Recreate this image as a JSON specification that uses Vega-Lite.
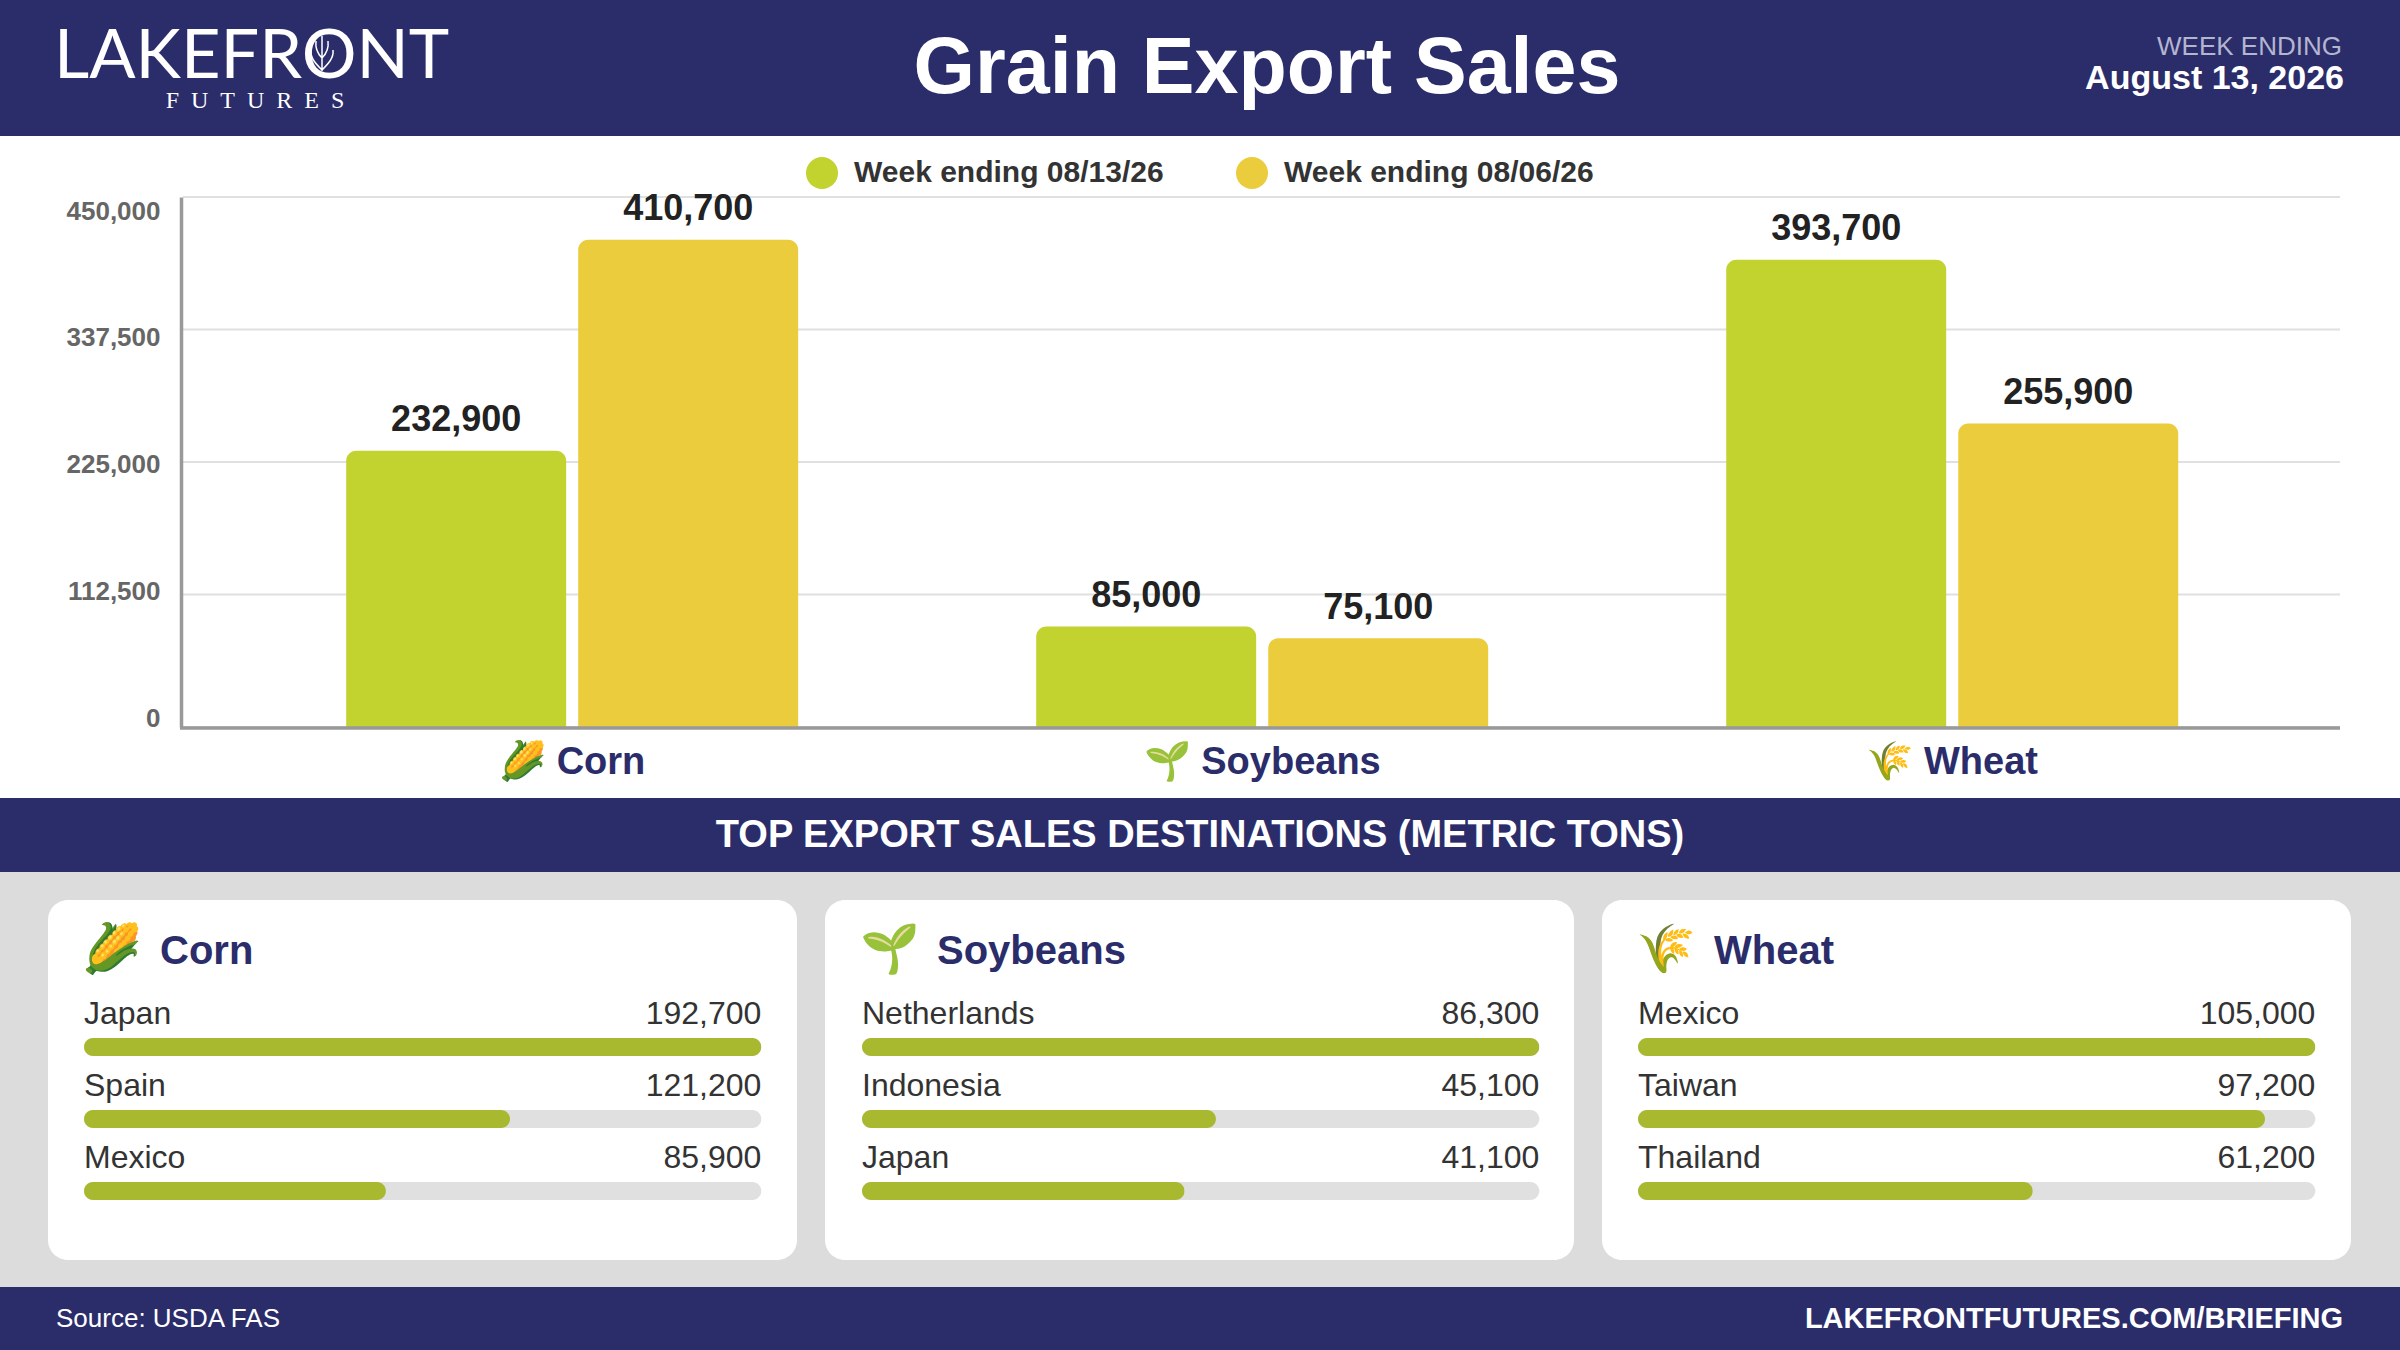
{"$schema":"https://vega.github.io/schema/vega-lite/v6.json","background":"#dcdcdc","padding":0,"spacing":0,"config":{"font":"Liberation Sans","view":{"stroke":null},"concat":{"spacing":0}},"datasets":{"ticks":[{"tick":0},{"tick":112500},{"tick":225000},{"tick":337500},{"tick":450000}],"sales":[{"crop":"Corn","week":"Week ending 08/13/26","tons":232900},{"crop":"Corn","week":"Week ending 08/06/26","tons":410700},{"crop":"Soybeans","week":"Week ending 08/13/26","tons":85000},{"crop":"Soybeans","week":"Week ending 08/06/26","tons":75100},{"crop":"Wheat","week":"Week ending 08/13/26","tons":393700},{"crop":"Wheat","week":"Week ending 08/06/26","tons":255900}]},"vconcat":[
{"width":2400,"height":136,"view":{"fill":"#2b2d6b"},"layer":[
{"data":{"values":[{"t":"LAKEFRONT"}]},"mark":{"type":"text","x":54,"y":57,"align":"left","baseline":"middle","font":"Lato","fontSize":68.5,"color":"#ffffff"},"encoding":{"text":{"field":"t"}}},
{"data":{"values":[{"t":"logo leaf"}]},"mark":{"type":"point","x":322,"y":53,"size":1600,"filled":false,"opacity":1,"stroke":"#ffffff","strokeWidth":1.5,"shape":"M0,-0.85 L0,0.9 M0,0.85 C-0.3,0.55 -0.6,0.25 -0.55,-0.15 M0,0.85 C0.3,0.55 0.6,0.25 0.55,-0.15 M0,0.25 C-0.2,0.05 -0.35,-0.2 -0.3,-0.6 M0,0.25 C0.2,0.05 0.35,-0.2 0.3,-0.6"},"encoding":{}},
{"data":{"values":[{"t":"F\u2002U\u2002T\u2002U\u2002R\u2002E\u2002S"}]},"mark":{"type":"text","x":255,"y":101,"align":"center","baseline":"middle","font":"Liberation Serif","fontSize":24,"color":"#ffffff"},"encoding":{"text":{"field":"t"}}},
{"data":{"values":[{"t":"Grain Export Sales"}]},"mark":{"type":"text","x":1267,"y":69,"align":"center","baseline":"middle","fontWeight":"bold","fontSize":79,"color":"#ffffff"},"encoding":{"text":{"field":"t"}}},
{"data":{"values":[{"t":"WEEK ENDING"}]},"mark":{"type":"text","x":2342,"y":47,"align":"right","baseline":"middle","fontSize":26,"color":"#b4b5cf"},"encoding":{"text":{"field":"t"}}},
{"data":{"values":[{"t":"August 13, 2026"}]},"mark":{"type":"text","x":2344,"y":79,"align":"right","baseline":"middle","fontWeight":"bold","fontSize":34,"color":"#ffffff"},"encoding":{"text":{"field":"t"}}}
]},
{"width":2400,"height":662,"view":{"fill":"#ffffff"},"resolve":{"scale":{"x":"independent","y":"independent"}},"layer":[
{"data":{"name":"ticks"},"mark":{"type":"rule","color":"#e0e0e0","strokeWidth":2},"encoding":{"y":{"field":"tick","type":"quantitative","scale":{"domain":[0,450000],"nice":false,"range":[591,61]},"axis":{"orient":"left","offset":-181,"labels":false,"ticks":false,"grid":false,"title":null,"domainColor":"#999999","domainWidth":3.5,"zindex":1}},"x":{"datum":0,"type":"quantitative","scale":{"domain":[0,1],"nice":false,"range":[183,2340]},"axis":null},"x2":{"datum":1}}},
{"data":{"name":"ticks"},"mark":{"type":"rule","opacity":0},"encoding":{"y":{"field":"tick","type":"quantitative","scale":{"domain":[0,450000],"nice":false,"range":[582,75]},"axis":{"orient":"left","offset":-165,"values":[0,112500,225000,337500,450000],"format":",d","labelFontSize":26,"labelFontWeight":"bold","labelColor":"#666666","labelPadding":5,"labelOverlap":false,"labelFlush":false,"domain":false,"ticks":false,"grid":false,"title":null}}}},
{"data":{"name":"sales"},"mark":{"type":"bar","cornerRadiusTopLeft":10,"cornerRadiusTopRight":10},"encoding":{"x":{"field":"crop","type":"nominal","sort":null,"scale":{"domain":["Corn","Soybeans","Wheat"],"range":[183.7,2340.7],"paddingInner":0.345,"paddingOuter":0.2355},"axis":{"orient":"bottom","offset":-70,"title":null,"ticks":false,"domain":false,"labelAngle":0,"labelFontSize":38,"labelFontWeight":"bold","labelColor":"#2b2d6b","labelPadding":15,"labelLimit":400,"labelExpr":"(datum.value=='Corn'?'🌽 ':datum.value=='Soybeans'?'🌱 ':'🌾 ')+datum.value"}},"xOffset":{"field":"week","type":"nominal","sort":["Week ending 08/13/26","Week ending 08/06/26"],"scale":{"paddingInner":0.052,"paddingOuter":0}},"y":{"field":"tons","type":"quantitative","stack":null,"scale":{"domain":[0,450000],"nice":false,"range":[591.5,57]},"axis":null},"color":{"field":"week","type":"nominal","sort":["Week ending 08/13/26","Week ending 08/06/26"],"scale":{"domain":["Week ending 08/13/26","Week ending 08/06/26"],"range":["#c2d22e","#eacc3c"]},"legend":{"title":null,"orient":"none","legendX":806,"legendY":157,"direction":"horizontal","columns":2,"columnPadding":72,"symbolType":"circle","symbolSize":1024,"symbolStrokeWidth":0,"labelFontSize":30,"labelFontWeight":"bold","labelColor":"#333333","labelOffset":16,"labelLimit":500}}}},
{"data":{"name":"sales"},"mark":{"type":"text","baseline":"bottom","dy":-11.5,"fontSize":36,"fontWeight":"bold","color":"#222222"},"encoding":{"x":{"field":"crop","type":"nominal","sort":null,"scale":{"domain":["Corn","Soybeans","Wheat"],"range":[183.7,2340.7],"paddingInner":0.345,"paddingOuter":0.2355},"axis":null},"xOffset":{"field":"week","type":"nominal","sort":["Week ending 08/13/26","Week ending 08/06/26"],"scale":{"paddingInner":0.052,"paddingOuter":0}},"y":{"field":"tons","type":"quantitative","stack":null,"scale":{"domain":[0,450000],"nice":false,"range":[591.5,57]},"axis":null},"text":{"field":"tons","type":"quantitative","format":",d"}}},
{"data":{"values":[{"tick":0}]},"mark":{"type":"rule","color":"#999999","strokeWidth":3.5},"encoding":{"y":{"field":"tick","type":"quantitative","scale":{"domain":[0,450000],"nice":false,"range":[592,61]},"axis":null},"x":{"datum":0,"type":"quantitative","scale":{"domain":[0,1],"nice":false,"range":[180,2340]},"axis":null},"x2":{"datum":1}}}
]},
{"width":2400,"height":74,"view":{"fill":"#2b2d6b"},"data":{"values":[{"t":"TOP EXPORT SALES DESTINATIONS (METRIC TONS)"}]},"mark":{"type":"text","x":1200,"y":38,"align":"center","baseline":"middle","fontWeight":"bold","fontSize":38,"color":"#ffffff"},"encoding":{"text":{"field":"t"}}},
{"width":2400,"height":28,"view":{"fill":"#dcdcdc"},"data":{"values":[]},"mark":"rule","encoding":{}},
{"spacing":28,"hconcat":[
{"width":20,"height":360,"view":{"fill":"#dcdcdc"},"data":{"values":[]},"mark":"rule","encoding":{}},
{"width":749,"height":360,"view":{"fill":"#ffffff","cornerRadius":20},"layer":[
{"data":{"values":[{"t":"🌽"}]},"mark":{"type":"text","x":64,"y":51,"align":"center","baseline":"middle","fontSize":48},"encoding":{"text":{"field":"t"}}},
{"data":{"values":[{"t":"Corn"}]},"mark":{"type":"text","x":112,"y":52,"align":"left","baseline":"middle","fontSize":40,"fontWeight":"bold","color":"#2b2d6b"},"encoding":{"text":{"field":"t"}}},
{"data":{"values":[{"country":"Japan","tons":192700},{"country":"Spain","tons":121200},{"country":"Mexico","tons":85900}]},"layer":[
{"mark":{"type":"bar","height":18,"cornerRadius":9,"color":"#e0e0e0"},"encoding":{"y":{"field":"country","type":"nominal","sort":null,"scale":{"type":"point","padding":0,"domain":["Japan","Spain","Mexico"],"range":[147,291]},"axis":null},"x":{"datum":0,"type":"quantitative","scale":{"domain":[0,192700],"nice":false,"range":[36,713.3]},"axis":null},"x2":{"datum":192700}}},
{"mark":{"type":"bar","height":18,"cornerRadius":9,"color":"#a8b82f"},"encoding":{"y":{"field":"country","type":"nominal","sort":null},"x":{"field":"tons","type":"quantitative"}}},
{"mark":{"type":"text","align":"left","baseline":"middle","dy":-33,"fontSize":32,"color":"#333333"},"encoding":{"y":{"field":"country","type":"nominal","sort":null},"x":{"datum":0,"type":"quantitative"},"text":{"field":"country"}}},
{"mark":{"type":"text","align":"right","baseline":"middle","dy":-33,"fontSize":32,"color":"#333333"},"encoding":{"y":{"field":"country","type":"nominal","sort":null},"x":{"datum":192700,"type":"quantitative"},"text":{"field":"tons","type":"quantitative","format":",d"}}}
]}]},
{"width":749,"height":360,"view":{"fill":"#ffffff","cornerRadius":20},"layer":[
{"data":{"values":[{"t":"🌱"}]},"mark":{"type":"text","x":65,"y":51,"align":"center","baseline":"middle","fontSize":48},"encoding":{"text":{"field":"t"}}},
{"data":{"values":[{"t":"Soybeans"}]},"mark":{"type":"text","x":112,"y":52,"align":"left","baseline":"middle","fontSize":40,"fontWeight":"bold","color":"#2b2d6b"},"encoding":{"text":{"field":"t"}}},
{"data":{"values":[{"country":"Netherlands","tons":86300},{"country":"Indonesia","tons":45100},{"country":"Japan","tons":41100}]},"layer":[
{"mark":{"type":"bar","height":18,"cornerRadius":9,"color":"#e0e0e0"},"encoding":{"y":{"field":"country","type":"nominal","sort":null,"scale":{"type":"point","padding":0,"domain":["Netherlands","Indonesia","Japan"],"range":[147,291]},"axis":null},"x":{"datum":0,"type":"quantitative","scale":{"domain":[0,86300],"nice":false,"range":[37,714.3]},"axis":null},"x2":{"datum":86300}}},
{"mark":{"type":"bar","height":18,"cornerRadius":9,"color":"#a8b82f"},"encoding":{"y":{"field":"country","type":"nominal","sort":null},"x":{"field":"tons","type":"quantitative"}}},
{"mark":{"type":"text","align":"left","baseline":"middle","dy":-33,"fontSize":32,"color":"#333333"},"encoding":{"y":{"field":"country","type":"nominal","sort":null},"x":{"datum":0,"type":"quantitative"},"text":{"field":"country"}}},
{"mark":{"type":"text","align":"right","baseline":"middle","dy":-33,"fontSize":32,"color":"#333333"},"encoding":{"y":{"field":"country","type":"nominal","sort":null},"x":{"datum":86300,"type":"quantitative"},"text":{"field":"tons","type":"quantitative","format":",d"}}}
]}]},
{"width":749,"height":360,"view":{"fill":"#ffffff","cornerRadius":20},"layer":[
{"data":{"values":[{"t":"🌾"}]},"mark":{"type":"text","x":64,"y":51,"align":"center","baseline":"middle","fontSize":48},"encoding":{"text":{"field":"t"}}},
{"data":{"values":[{"t":"Wheat"}]},"mark":{"type":"text","x":112,"y":52,"align":"left","baseline":"middle","fontSize":40,"fontWeight":"bold","color":"#2b2d6b"},"encoding":{"text":{"field":"t"}}},
{"data":{"values":[{"country":"Mexico","tons":105000},{"country":"Taiwan","tons":97200},{"country":"Thailand","tons":61200}]},"layer":[
{"mark":{"type":"bar","height":18,"cornerRadius":9,"color":"#e0e0e0"},"encoding":{"y":{"field":"country","type":"nominal","sort":null,"scale":{"type":"point","padding":0,"domain":["Mexico","Taiwan","Thailand"],"range":[147,291]},"axis":null},"x":{"datum":0,"type":"quantitative","scale":{"domain":[0,105000],"nice":false,"range":[36,713.3]},"axis":null},"x2":{"datum":105000}}},
{"mark":{"type":"bar","height":18,"cornerRadius":9,"color":"#a8b82f"},"encoding":{"y":{"field":"country","type":"nominal","sort":null},"x":{"field":"tons","type":"quantitative"}}},
{"mark":{"type":"text","align":"left","baseline":"middle","dy":-33,"fontSize":32,"color":"#333333"},"encoding":{"y":{"field":"country","type":"nominal","sort":null},"x":{"datum":0,"type":"quantitative"},"text":{"field":"country"}}},
{"mark":{"type":"text","align":"right","baseline":"middle","dy":-33,"fontSize":32,"color":"#333333"},"encoding":{"y":{"field":"country","type":"nominal","sort":null},"x":{"datum":105000,"type":"quantitative"},"text":{"field":"tons","type":"quantitative","format":",d"}}}
]}]}
]},
{"width":2400,"height":27,"view":{"fill":"#dcdcdc"},"data":{"values":[]},"mark":"rule","encoding":{}},
{"width":2400,"height":63,"view":{"fill":"#2b2d6b"},"layer":[
{"data":{"values":[{"t":"Source: USDA FAS"}]},"mark":{"type":"text","x":56,"y":32,"align":"left","baseline":"middle","fontSize":26,"color":"#ffffff"},"encoding":{"text":{"field":"t"}}},
{"data":{"values":[{"t":"LAKEFRONTFUTURES.COM/BRIEFING"}]},"mark":{"type":"text","x":2343,"y":32,"align":"right","baseline":"middle","fontSize":29,"fontWeight":"bold","color":"#ffffff"},"encoding":{"text":{"field":"t"}}}
]}
]}
